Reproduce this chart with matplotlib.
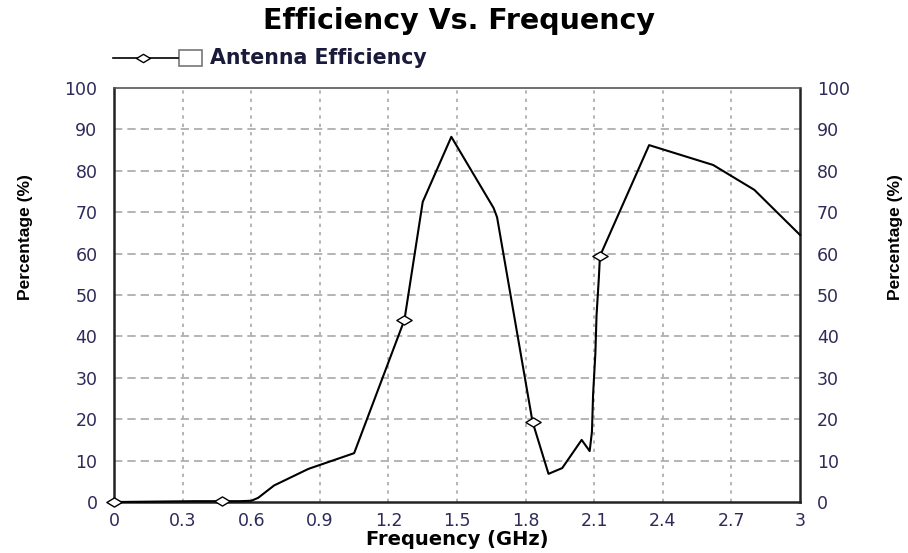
import numpy as np
import matplotlib.pyplot as plt
from matplotlib.lines import Line2D
from matplotlib.patches import Rectangle
from matplotlib.path import Path

# frequency (GHz) and antenna efficiency (%)
freq = [0.0, 0.35, 0.47, 0.55, 0.60, 0.63, 0.70, 0.85, 1.05, 1.27, 1.35, 1.475,
        1.66, 1.675, 1.83, 1.90, 1.96, 2.045, 2.08, 2.09, 2.095, 2.105, 2.11,
        2.12, 2.125, 2.34, 2.62, 2.80, 3.0]
eff = [0.0, 0.2, 0.2, 0.2, 0.3, 1.0, 4.0, 8.0, 11.8, 44.0, 72.5, 88.2,
       71.0, 68.8, 19.4, 6.8, 8.2, 15.0, 12.3, 17.0, 26.0, 36.0, 45.0,
       54.0, 59.4, 86.2, 81.4, 75.4, 64.5]
marker_idx = [0, 2, 9, 14, 24]

xticks = [0, 0.3, 0.6, 0.9, 1.2, 1.5, 1.8, 2.1, 2.4, 2.7, 3]
xtick_labels = ['0', '0.3', '0.6', '0.9', '1.2', '1.5', '1.8', '2.1', '2.4', '2.7', '3']
yticks = list(range(0, 101, 10))

plt.rcParams['font.family'] = ['DejaVu Sans']
tick_color = '#2e2a5a'

# flattened diamond like the original markers
wide_diamond = Path([(-1, 0), (0, 0.6), (1, 0), (0, -0.6), (-1, 0)],
                    [Path.MOVETO, Path.LINETO, Path.LINETO, Path.LINETO, Path.CLOSEPOLY])

fig = plt.figure(figsize=(9.08, 5.53), dpi=100)
ax = fig.add_axes([0.1256, 0.0922, 0.7555, 0.7487])

ax.plot(freq, eff, color='black', lw=1.5, marker=wide_diamond, markersize=11,
        markerfacecolor='white', markeredgecolor='black', markeredgewidth=1.0,
        markevery=marker_idx, clip_on=False, zorder=3)

ax.set_xlim(0, 3)
ax.set_ylim(0, 100)
ax.set_xticks(xticks)
ax.set_xticklabels(xtick_labels)
ax.set_yticks(yticks)

for x in xticks[1:-1]:
    ax.axvline(x, color='#a8a8a8', lw=1.2, ls=(0, (2, 3)), zorder=1)
for y in yticks[1:-1]:
    ax.axhline(y, color='#a8a8a8', lw=1.2, ls=(0, (5, 3)), zorder=1)

for s in ['left', 'right', 'bottom']:
    ax.spines[s].set_color('#222222')
    ax.spines[s].set_linewidth(1.8)
ax.spines['top'].set_color('#555555')
ax.spines['top'].set_linewidth(1.2)

ax.tick_params(axis='both', length=0, labelsize=12.5, colors=tick_color, pad=7)
ax.tick_params(axis='y', right=True, labelright=True, pad=12)

ax.set_xlabel('Frequency (GHz)', fontsize=14, fontweight='bold', labelpad=0)
fig.text(0.028, 0.571, 'Percentage (%)', rotation=90, fontsize=12.5, fontweight='bold',
         ha='center', va='center', family=['Liberation Sans Narrow', 'Liberation Sans'])
fig.text(0.986, 0.571, 'Percentage (%)', rotation=90, fontsize=12.5, fontweight='bold',
         ha='center', va='center', family=['Liberation Sans Narrow', 'Liberation Sans'])

fig.text(0.505, 0.962, 'Efficiency Vs. Frequency', fontsize=20.5, fontweight='bold',
         ha='center', va='center')

# legend drawn by hand: line with diamond, empty box, label
fig.add_artist(Line2D([0.124, 0.196], [0.895, 0.895], color='black', lw=1.2))
fig.add_artist(Line2D([0.158], [0.895], color='black', marker=wide_diamond, markersize=10,
                      markerfacecolor='white', markeredgewidth=1.0))
fig.add_artist(Rectangle((0.197, 0.881), 0.026, 0.028, facecolor='white',
                         edgecolor='#777777', lw=1.2))
fig.text(0.231, 0.895, 'Antenna Efficiency', fontsize=14.8, fontweight='bold',
         color='#1a1a3a', ha='left', va='center')

fig.savefig('out.png', dpi=100)
